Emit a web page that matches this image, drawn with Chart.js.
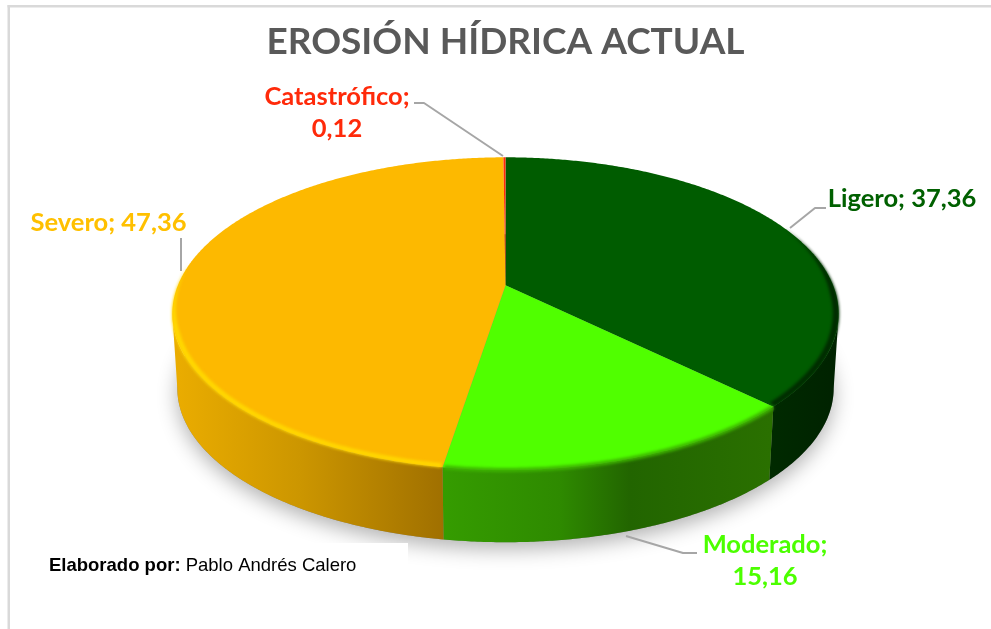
<!DOCTYPE html>
<html lang="es">
<head>
<meta charset="utf-8">
<title>Erosión hídrica actual</title>
<script src="https://cdn.jsdelivr.net/npm/chart.js@4"></script>
<style>html,body{margin:0;padding:0;background:#fff}canvas{display:block}</style>
</head>
<body>
<canvas id="c" width="991" height="629"></canvas>
<script>
// ---- data ----
const chartTitle = 'EROSIÓN HÍDRICA ACTUAL';
const categories = ['Ligero', 'Moderado', 'Severo', 'Catastrófico'];
const seriesValues = [37.36, 15.16, 47.36, 0.12];
const caption = ['Elaborado por:', 'Pablo Andrés Calero'];

// ---- style ----
const topColors = ['#005C00', '#50FF00', '#FDB900', '#FF2A0A'];
const labelColors = ['#006000', '#4CFF00', '#FFC000', '#FF2A0A'];
const rimColors = ['#002C00', '#3DB400', '#FFD800', '#FF2A0A'];
const rimInner = [6, 2.5, 5, 0];
const rimOuter = [0.5, 2.5, 0.5, 0];
const rimLimits = [-0.4, -1, -0.15, -1];
const wallStops = [
  [[770, '#002A00'], [838, '#002200']],
  [[443, '#359C00'], [560, '#2E8A00'], [630, '#226500'], [770, '#2A7000']],
  [[172, '#EBAD00'], [300, '#CC9600'], [443, '#A07000']],
  [[172, '#B02000'], [838, '#B02000']]
];
// label layout: text lines positions, leader polyline
const labelLayout = [
  { lines: 1, x: 902, y: 207, leader: [[790, 228], [815, 208], [826, 208]] },
  { lines: 2, x: 765, y: 553, leader: [[626, 536], [683, 553], [697, 553]] },
  { lines: 1, x: 108.5, y: 231, leader: [[181, 238], [181, 271]] },
  { lines: 2, x: 337, y: 105, leader: [[414, 103], [424, 103], [503, 156]] }
];
const LABEL_FONT = 'bold 25.5px Lato';
const LINE_GAP = 32;

// ---- perspective of the pie disc ----
const PERSP = 0.182, RX = 327.9 / 221, RY = 151.3 / 221;
const BOTTOM_SCALE = 0.985, DEPTH = 75;
function projector(el, isBottom) {
  const s = isBottom ? BOTTOM_SCALE : 1, d = isBottom ? DEPTH : 0;
  return a => {
    const u = Math.cos(a), v = Math.sin(a), w = 1 - PERSP * v;
    return [el.x + s * RX * el.outerRadius * u / w,
            el.y + d + s * RY * el.outerRadius * v / w];
  };
}
function arcPoints(p, a0, a1) {
  const n = Math.max(2, Math.ceil(Math.abs(a1 - a0) / 0.008)), out = [];
  for (let i = 0; i <= n; i++) out.push(p(a0 + (a1 - a0) * i / n));
  return out;
}
function trace(ctx, pts, start) {
  pts.forEach((q, i) => (i || !start) ? ctx.lineTo(q[0], q[1]) : ctx.moveTo(q[0], q[1]));
}
// visible range of an angle span where sin(a) >= limit
function visibleSpans(a0, a1, limit) {
  const spans = []; let cur = null;
  const n = Math.ceil((a1 - a0) / 0.004);
  for (let i = 0; i <= n; i++) {
    const a = a0 + (a1 - a0) * i / n;
    if (Math.sin(a) >= limit) { if (!cur) cur = [a, a]; cur[1] = a; }
    else if (cur) { spans.push(cur); cur = null; }
  }
  if (cur) spans.push(cur);
  return spans;
}

const pie3d = {
  id: 'pie3d',
  beforeDraw(chart) {
    const ctx = chart.ctx;
    ctx.save();
    ctx.fillStyle = '#fff';
    ctx.fillRect(0, 0, chart.width, chart.height);
    ctx.fillStyle = '#D9D9D9';
    ctx.fillRect(7.5, 5, chart.width, 2.5);
    ctx.fillRect(7.5, 5, 2.5, chart.height);
    ctx.restore();
  },
  beforeDatasetsDraw(chart) {
    const ctx = chart.ctx, arcs = chart.getDatasetMeta(0).data;
    const topP = projector(arcs[0], false), botP = projector(arcs[0], true);
    ctx.save();

    // soft ground shadow
    ctx.save();
    ctx.shadowColor = 'rgba(0,0,0,0.3)';
    ctx.shadowBlur = 20;
    ctx.shadowOffsetY = 7;
    ctx.fillStyle = '#888';
    ctx.beginPath();
    trace(ctx, arcPoints(botP, 0, Math.PI * 2), true);
    ctx.closePath();
    ctx.fill();
    ctx.restore();

    // white caption box covers the shadow
    ctx.fillStyle = '#fff';
    ctx.fillRect(10, 543, 398, 60);

    // side walls: front part of the rim, from one silhouette tangent to the other
    arcs.forEach((el, i) => {
      const stops = wallStops[i];
      const x0 = stops[0][0], x1 = stops[stops.length - 1][0];
      const g = ctx.createLinearGradient(x0, 0, x1, 0);
      stops.forEach(s => g.addColorStop((s[0] - x0) / (x1 - x0), s[1]));
      visibleSpans(el.startAngle, el.endAngle, PERSP).forEach(sp => {
        ctx.beginPath();
        trace(ctx, arcPoints(topP, sp[0], sp[1]), true);
        trace(ctx, arcPoints(botP, sp[1], sp[0]), false);
        ctx.closePath();
        ctx.fillStyle = g;
        ctx.fill();
      });
    });

    // top faces
    arcs.forEach((el, i) => {
      ctx.beginPath();
      ctx.moveTo(el.x, el.y);
      trace(ctx, arcPoints(topP, el.startAngle, el.endAngle), false);
      ctx.closePath();
      ctx.fillStyle = topColors[i];
      ctx.fill();
    });

    // bevel along the front rim: a band that tapers to nothing at its upper end
    arcs.forEach((el, i) => {
      if (!rimInner[i]) return;
      const limit = rimLimits[i];
      const taper = a => Math.max(0, Math.min(1, limit <= -1 ? 1 : (Math.sin(a) - limit) / 0.45));
      const offset = k => a => {
        const q = topP(a), t = taper(a) * k;
        return [q[0] - t * Math.cos(a), q[1] - t * 0.8 * Math.sin(a)];
      };
      ctx.save();
      ctx.filter = 'blur(1.6px)';
      ctx.fillStyle = rimColors[i];
      visibleSpans(el.startAngle + 0.004, el.endAngle - 0.004, limit).forEach(sp => {
        ctx.beginPath();
        trace(ctx, arcPoints(offset(rimInner[i]), sp[0], sp[1]), true);
        trace(ctx, arcPoints(offset(-rimOuter[i]), sp[1], sp[0]), false);
        ctx.closePath();
        ctx.fill();
      });
      ctx.restore();
    });
    ctx.restore();
    return false;
  },
  afterDraw(chart) {
    const ctx = chart.ctx;
    ctx.save();
    // leaders
    ctx.strokeStyle = '#A6A6A6';
    ctx.lineWidth = 2;
    ctx.lineJoin = 'round';
    labelLayout.forEach(l => {
      ctx.beginPath();
      trace(ctx, l.leader, true);
      ctx.stroke();
    });
    // data labels
    ctx.font = LABEL_FONT;
    ctx.textAlign = 'center';
    ctx.textBaseline = 'alphabetic';
    categories.forEach((name, i) => {
      const val = seriesValues[i].toFixed(2).replace('.', ',');
      const l = labelLayout[i];
      ctx.fillStyle = labelColors[i];
      if (l.lines === 2) {
        ctx.fillText(name + ';', l.x, l.y);
        ctx.fillText(val, l.x, l.y + LINE_GAP);
      } else {
        ctx.fillText(name + '; ' + val, l.x, l.y);
      }
    });
    // caption
    ctx.textAlign = 'left';
    ctx.fillStyle = '#000';
    ctx.font = 'bold 18.5px "Liberation Sans"';
    ctx.fillText(caption[0], 49, 571);
    const w = ctx.measureText(caption[0] + ' ').width;
    ctx.font = '18.5px "Liberation Sans"';
    ctx.fillText(caption[1], 49 + w, 571);
    ctx.restore();
  }
};

new Chart(document.getElementById('c'), {
  type: 'pie',
  data: {
    labels: categories,
    datasets: [{ data: seriesValues, backgroundColor: topColors, borderWidth: 0 }]
  },
  options: {
    responsive: false,
    animation: false,
    rotation: 0,
    layout: { padding: { left: 20, top: 0, right: 0, bottom: 123 } },
    plugins: {
      legend: { display: false },
      tooltip: { enabled: false },
      title: {
        display: true,
        text: chartTitle,
        color: '#595959',
        font: { family: 'Lato', weight: 'bold', size: 37 },
        padding: { top: 20, bottom: 0 }
      }
    }
  },
  plugins: [pie3d]
});
</script>
</body>
</html>
